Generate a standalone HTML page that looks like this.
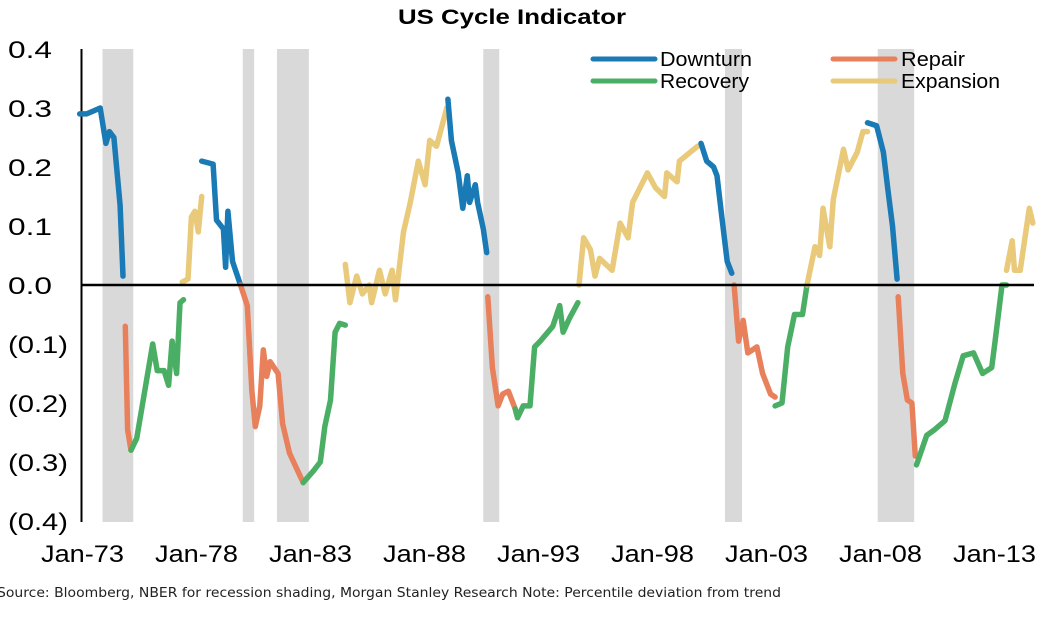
<!DOCTYPE html>
<html><head><meta charset="utf-8"><style>
html,body{margin:0;padding:0;background:#fff;}
body{width:1063px;height:620px;overflow:hidden;position:relative;font-family:"Liberation Sans",Arial,sans-serif;}
</style></head><body>
<svg id="chart" width="1063" height="620" xmlns="http://www.w3.org/2000/svg">
<text x="398" y="24" textLength="228" lengthAdjust="spacingAndGlyphs" font-family="Liberation Sans, sans-serif" font-weight="bold" font-size="21">US Cycle Indicator</text>
<g id="shading"></g>
<g id="yticks"></g>
<g id="xticks"></g>
<line x1="81.5" y1="49" x2="81.5" y2="522" stroke="#000" stroke-width="2"/>
<g id="series"></g>
<line x1="81" y1="285" x2="1034" y2="285" stroke="#000" stroke-width="2.5"/>
<g font-family="Liberation Sans, sans-serif" font-size="20">
 <g><line x1="593" y1="59" x2="655" y2="59" stroke="#1a7ab5" stroke-width="5" stroke-linecap="round"/><text x="660" y="66" textLength="92" lengthAdjust="spacingAndGlyphs">Downturn</text></g>
 <g><line x1="833" y1="59" x2="895" y2="59" stroke="#e8805c" stroke-width="5" stroke-linecap="round"/><text x="901" y="66" textLength="64" lengthAdjust="spacingAndGlyphs">Repair</text></g>
 <g><line x1="593" y1="81" x2="655" y2="81" stroke="#4aaf64" stroke-width="5" stroke-linecap="round"/><text x="660" y="88" textLength="89" lengthAdjust="spacingAndGlyphs">Recovery</text></g>
 <g><line x1="833" y1="81" x2="895" y2="81" stroke="#e9c97a" stroke-width="5" stroke-linecap="round"/><text x="901" y="88" textLength="99" lengthAdjust="spacingAndGlyphs">Expansion</text></g>
</g>
<text x="-3" y="597" textLength="784" lengthAdjust="spacingAndGlyphs" font-family="DejaVu Sans, sans-serif" font-size="13" fill="#222">Source: Bloomberg, NBER for recession shading, Morgan Stanley Research Note: Percentile deviation from trend</text>
</svg>
<script>
const yTickValues=[0.4,0.3,0.2,0.1,0,-0.1,-0.2,-0.3,-0.4];
const yTickLabels=["0.4","0.3","0.2","0.1","0.0","(0.1)","(0.2)","(0.3)","(0.4)"];
const xTickYears=[1973,1978,1983,1988,1993,1998,2003,2008,2013];
const xTickLabels=["Jan-73","Jan-78","Jan-83","Jan-88","Jan-93","Jan-98","Jan-03","Jan-08","Jan-13"];
const recessionStarts=[1973.9,1980.05,1981.55,1990.6,2001.2,2007.9];
const recessionEnds=[1975.25,1980.55,1982.95,1991.3,2001.95,2009.5];
const phaseNames=["downturn","repair","recovery","expansion"];
const phaseColors=["#1a7ab5","#e8805c","#4aaf64","#e9c97a"];
const segPhases=[0,1,2,3,0,1,2,3,0,1,2,3,0,1,2,3,0,1,2,3];
const segYears=[
[1972.9,1973.2,1973.5,1973.8,1974.05,1974.2,1974.4,1974.67,1974.8],
[1974.9,1975.0,1975.15],
[1975.15,1975.4,1976.1,1976.3,1976.6,1976.8,1976.95,1977.15,1977.3,1977.45],
[1977.4,1977.65,1977.8,1977.95,1978.1,1978.25],
[1978.25,1978.75,1978.9,1979.2,1979.3,1979.4,1979.6,1979.95],
[1979.95,1980.25,1980.45,1980.6,1980.8,1980.95,1981.1,1981.25,1981.6,1981.8,1982.1,1982.4,1982.7],
[1982.7,1983.15,1983.45,1983.65,1983.9,1984.1,1984.3,1984.55],
[1984.55,1984.75,1985.05,1985.3,1985.6,1985.7,1986.05,1986.3,1986.6,1986.75,1987.1,1987.4,1987.75,1988.05,1988.25,1988.55,1989.0],
[1989.05,1989.2,1989.5,1989.7,1989.9,1990.0,1990.25,1990.35,1990.6,1990.75],
[1990.8,1991.0,1991.25,1991.45,1991.7,1992.0],
[1992.0,1992.1,1992.35,1992.65,1992.85,1993.1,1993.65,1993.95,1994.1,1994.4,1994.75],
[1994.8,1995.0,1995.3,1995.5,1995.7,1996.25,1996.6,1996.95,1997.15,1997.8,1998.15,1998.55,1998.65,1999.1,1999.2,2000.0],
[2000.15,2000.4,2000.7,2000.85,2001.05,2001.3,2001.5],
[2001.6,2001.8,2002.0,2002.2,2002.6,2002.85,2003.2,2003.4],
[2003.4,2003.7,2003.95,2004.25,2004.6,2004.8],
[2004.8,2005.15,2005.35,2005.5,2005.8,2005.95,2006.4,2006.6,2007.0,2007.25,2007.45],
[2007.45,2007.85,2008.15,2008.35,2008.55,2008.75],
[2008.8,2009.0,2009.2,2009.4,2009.55],
[2009.6,2010.05,2010.4,2010.85,2011.3,2011.65,2012.1,2012.5,2012.9,2013.05,2013.35,2013.55],
[2013.55,2013.8,2013.9,2014.15,2014.55,2014.7]
];
const segValues=[
[0.29,0.29,0.295,0.30,0.24,0.26,0.25,0.135,0.015],
[-0.07,-0.245,-0.28],
[-0.28,-0.26,-0.10,-0.145,-0.145,-0.17,-0.095,-0.15,-0.03,-0.025],
[0.005,0.01,0.115,0.125,0.09,0.15],
[0.21,0.205,0.11,0.095,0.03,0.125,0.04,0.0],
[0.0,-0.035,-0.18,-0.24,-0.205,-0.11,-0.155,-0.13,-0.15,-0.235,-0.285,-0.31,-0.335],
[-0.335,-0.315,-0.30,-0.24,-0.195,-0.08,-0.065,-0.068],
[0.035,-0.03,0.015,-0.015,0.0,-0.03,0.025,-0.015,0.025,-0.025,0.09,0.14,0.21,0.17,0.245,0.235,0.30],
[0.315,0.245,0.19,0.13,0.185,0.14,0.17,0.14,0.095,0.055],
[-0.02,-0.14,-0.205,-0.185,-0.18,-0.21],
[-0.21,-0.225,-0.205,-0.205,-0.105,-0.095,-0.07,-0.035,-0.08,-0.055,-0.03],
[0.0,0.08,0.06,0.015,0.045,0.025,0.105,0.08,0.14,0.19,0.165,0.15,0.19,0.175,0.21,0.235],
[0.24,0.21,0.20,0.185,0.12,0.04,0.02],
[0.0,-0.095,-0.06,-0.115,-0.105,-0.15,-0.185,-0.19],
[-0.205,-0.20,-0.105,-0.05,-0.05,0.0],
[0.0,0.065,0.05,0.13,0.065,0.145,0.23,0.195,0.225,0.26,0.26],
[0.275,0.27,0.225,0.16,0.10,0.01],
[-0.02,-0.15,-0.195,-0.20,-0.29],
[-0.305,-0.255,-0.245,-0.23,-0.165,-0.12,-0.115,-0.15,-0.14,-0.095,0.0,0.0],
[0.025,0.075,0.025,0.025,0.13,0.105]
];
const NS="http://www.w3.org/2000/svg";
function xScale(yr){return 82+(yr-1973)*22.8;}
function yScale(v){return 285-v*590;}
function mk(tag,attrs,parent){const e=document.createElementNS(NS,tag);for(const k in attrs)e.setAttribute(k,attrs[k]);parent.appendChild(e);return e;}
const shading=document.getElementById('shading');
recessionStarts.forEach((s,i)=>{
 const r=mk('rect',{x:xScale(s),y:49,width:xScale(recessionEnds[i])-xScale(s),height:473,fill:'#d9d9d9'},shading);
 
 
});
const yt=document.getElementById('yticks');
yTickValues.forEach((v,i)=>{
 const lab=yTickLabels[i];
 const len=lab.length>3?60:44;
 const t=mk('text',{x:8,y:yScale(v)+9,'font-size':24,textLength:len,lengthAdjust:'spacingAndGlyphs','font-family':'Liberation Sans, sans-serif'},yt);
 t.textContent=lab;
 
 
});
const xt=document.getElementById('xticks');
xTickYears.forEach((y,i)=>{
 const t=mk('text',{x:xScale(y)-41,y:562,'font-size':24,textLength:83,lengthAdjust:'spacingAndGlyphs','font-family':'Liberation Sans, sans-serif'},xt);
 t.textContent=xTickLabels[i];
 
 
});
const sg=document.getElementById('series');
segYears.forEach((ys,i)=>{
 const pts=ys.map((y,j)=>xScale(y).toFixed(1)+','+yScale(segValues[i][j]).toFixed(1)).join(' ');
 const p=mk('polyline',{points:pts,fill:'none',stroke:phaseColors[segPhases[i]],'stroke-width':5.5,'stroke-linejoin':'round','stroke-linecap':'round'},sg);
 
 
});
</script>
</body></html>
